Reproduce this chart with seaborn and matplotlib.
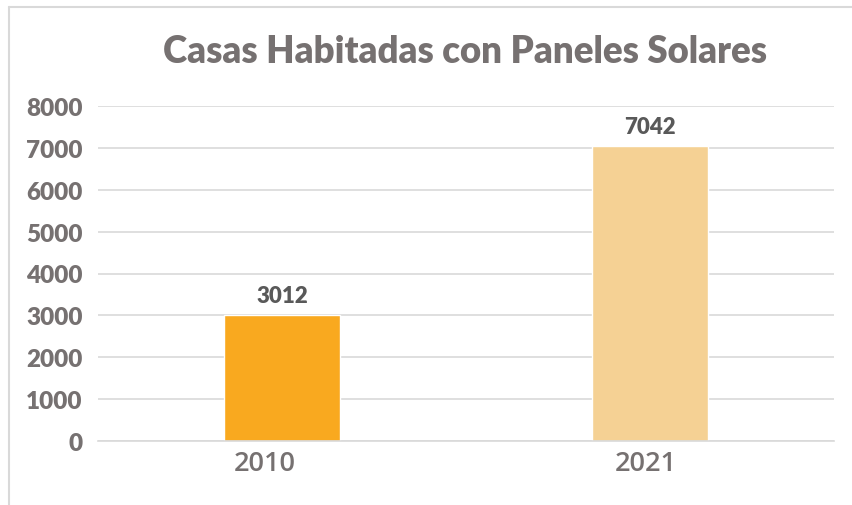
import matplotlib
matplotlib.use("Agg")
import matplotlib.pyplot as plt
import matplotlib.transforms as mtransforms
from matplotlib.lines import Line2D
import pandas as pd
import seaborn as sns

years = ["2010", "2021"]
casas = [3012, 7042]
bar_colors = ["#F9A91F", "#F5D194"]
y_ticks = [0, 1000, 2000, 3000, 4000, 5000, 6000, 7000, 8000]

df = pd.DataFrame({"year": years, "casas": casas})

sns.set_theme(style="white")
plt.rcParams["font.family"] = ["Lato", "DejaVu Sans"]

fig = plt.figure(figsize=(8.52, 5.06), dpi=100)
ax = fig.add_axes([98 / 852, 1 - 442 / 506, (834 - 98) / 852, (442 - 107) / 506])

sns.barplot(data=df, x="year", y="casas", hue="year", palette=bar_colors,
            width=0.315, legend=False, ax=ax, saturation=1)

ax.set_ylim(0, 8000)
ax.set_xlim(-0.5, 1.5)
ax.set_yticks(y_ticks)
ax.yaxis.grid(True, color="#D9D9D9", linewidth=1.2)
ax.set_axisbelow(True)
ax.spines[["top", "right", "left"]].set_visible(False)
ax.spines["bottom"].set_color("#D9D9D9")
ax.spines["bottom"].set_linewidth(1.2)
ax.tick_params(axis="y", length=0, pad=11, labelsize=17.5, labelcolor="#767171")
ax.tick_params(axis="x", length=0, pad=6, labelsize=19.5, labelcolor="#767171")
for lab in ax.get_yticklabels():
    lab.set_fontweight(800)
# category labels sit slightly left of the bar centres in the original
shifts = [-17, -4]
for lab, dx in zip(ax.get_xticklabels(), shifts):
    lab.set_family(["Open Sans", "DejaVu Sans"])
    lab.set_fontweight("semibold")
    lab.set_transform(lab.get_transform()
                      + mtransforms.ScaledTranslation(dx / 100, 0, fig.dpi_scale_trans))
ax.set_xlabel("")
ax.set_ylabel("")

for i, v in enumerate(casas):
    ax.text(i, v + 220, str(v), ha="center", va="bottom", fontsize=16,
            fontweight=800, color="#595959")

fig.text(465 / 852, 1 - 52 / 506, "Casas Habitadas con Paneles Solares",
         ha="center", va="center", fontsize=26.4, fontweight=800, color="#767171")

# light frame around the chart area
fig.add_artist(Line2D([9 / 852, 9 / 852], [0, 1 - 8 / 506], transform=fig.transFigure,
                      color="#D9D9D9", linewidth=1.5))
fig.add_artist(Line2D([9 / 852, 1], [1 - 8 / 506, 1 - 8 / 506], transform=fig.transFigure,
                      color="#D9D9D9", linewidth=1.5))

fig.savefig("out.png", dpi=100)
